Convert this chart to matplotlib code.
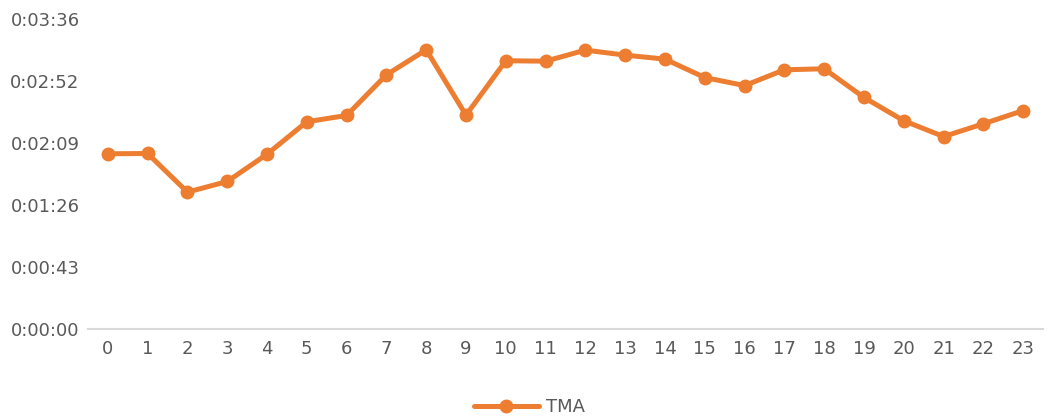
import matplotlib.pyplot as plt
from matplotlib.ticker import FuncFormatter, MultipleLocator

##### data : TMA per hour (seconds)
hours = list(range(24))
tma_sec = [122, 122.2, 95.3, 102.7, 121.7, 144.3, 148.7, 177, 194.4, 148.9,
           186.8, 186.5, 194.2, 190.7, 187.9, 175.1, 169.5, 180.5, 181.2, 161.2,
           145, 134, 142.9, 152.1]
y_step = 43.2  # seconds
y_max = 216

def hms(v, pos=None):
    s = int(v + 1e-6)
    return '%d:%02d:%02d' % (s // 3600, (s % 3600) // 60, s % 60)

plt.rcParams['font.family'] = 'DejaVu Sans'
fig = plt.figure(figsize=(10.59, 4.18), dpi=100)
ax = fig.add_axes([0.083, 0.213, 0.902, 0.742])

ax.plot(hours, tma_sec, color='#ED7D31', linewidth=3.6, marker='o',
        markersize=9, label='TMA', solid_capstyle='round')

ax.set_xlim(-0.5, 23.5)
ax.set_ylim(0, y_max)
ax.set_xticks(hours)
ax.yaxis.set_major_locator(MultipleLocator(y_step))
ax.yaxis.set_major_formatter(FuncFormatter(hms))

for s in ['top', 'right', 'left']:
    ax.spines[s].set_visible(False)
ax.spines['bottom'].set_color('#D9D9D9')
ax.spines['bottom'].set_linewidth(1.5)
ax.tick_params(axis='both', length=0, labelsize=13, labelcolor='#595959')
ax.tick_params(axis='x', pad=8)
ax.tick_params(axis='y', pad=6)

fig.legend(loc='lower center', bbox_to_anchor=(0.5, -0.035), frameon=False,
           fontsize=13, labelcolor='#595959', handlelength=3.6, handletextpad=0.4)

plt.savefig('out.png', dpi=100)
